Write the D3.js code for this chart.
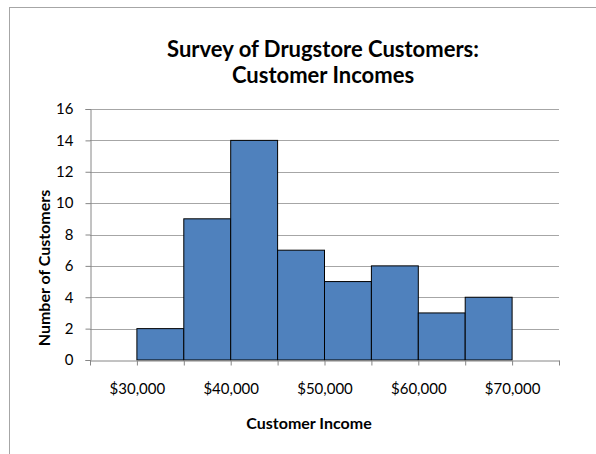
<!DOCTYPE html>
<html>
<head>
<meta charset="utf-8">
<script src="https://cdn.jsdelivr.net/npm/d3@7"></script>
<style>
  html, body { margin: 0; padding: 0; background: #fff; }
  svg { display: block; font-family: Lato, "Open Sans", sans-serif; }
</style>
</head>
<body>
<svg id="chart" width="596" height="454"></svg>
<script>
// Income bins (lower edge, upper edge) and customer counts
const binStarts = [30000, 35000, 40000, 45000, 50000, 55000, 60000, 65000];
const binEnds   = [35000, 40000, 45000, 50000, 55000, 60000, 65000, 70000];
const counts    = [2, 9, 14, 7, 5, 6, 3, 4];
const xLabelTicks = [30000, 40000, 50000, 60000, 70000];
const yTicks = [0, 2, 4, 6, 8, 10, 12, 14, 16];
const titleLines = ["Survey of Drugstore Customers:", "Customer Incomes"];

const svg = d3.select("#chart");
const plot = { left: 90, right: 559, top: 109, bottom: 360 };

// outer chart frame
svg.append("rect")
  .attr("x", 9.5).attr("y", 7.5)
  .attr("width", 620).attr("height", 470)
  .attr("fill", "none").attr("stroke", "#a6a6a6").attr("stroke-width", 1);

const x = d3.scaleLinear().domain([25000, 75000]).range([plot.left, plot.right]);
const y = d3.scaleLinear().domain([0, 16]).range([plot.bottom, plot.top]);

// horizontal gridlines
svg.append("g")
  .selectAll("line")
  .data(yTicks.filter(d => d > 0))
  .join("line")
  .attr("x1", plot.left).attr("x2", plot.right)
  .attr("y1", d => Math.round(y(d)) + 0.5).attr("y2", d => Math.round(y(d)) + 0.5)
  .attr("stroke", "#a6a6a6").attr("stroke-width", 1);

// bars
const bars = binStarts.map((s, i) => ({ s, e: binEnds[i], v: counts[i] }));
svg.append("g")
  .selectAll("rect")
  .data(bars)
  .join("rect")
  .attr("x", d => x(d.s))
  .attr("y", d => y(d.v))
  .attr("width", d => x(d.e) - x(d.s))
  .attr("height", d => y(0) - y(d.v))
  .attr("fill", "#4f81bd")
  .attr("stroke", "#000").attr("stroke-width", 1);

// y axis
const yAxis = svg.append("g")
  .attr("transform", `translate(${plot.left + 0.5},0)`)
  .call(d3.axisLeft(y).tickValues(yTicks).tickSize(5).tickPadding(12).tickFormat(d3.format("d")));
yAxis.select(".domain").attr("stroke", "#868686");
yAxis.selectAll(".tick line").attr("stroke", "#868686");
yAxis.selectAll(".tick text").attr("font-size", 15).attr("fill", "#000")
  .attr("font-family", "Lato, 'Open Sans', sans-serif");

// x axis: minor ticks every 5,000, labels every 10,000
const xTickVals = d3.range(25000, 75001, 5000);
const xAxis = svg.append("g")
  .attr("transform", `translate(0,${plot.bottom + 0.5})`)
  .call(d3.axisBottom(x).tickValues(xTickVals).tickSize(5).tickSizeOuter(0).tickPadding(18)
    .tickFormat(d => xLabelTicks.includes(d) ? "$" + d3.format(",")(d) : ""));
xAxis.select(".domain").attr("stroke", "#868686");
xAxis.selectAll(".tick line").attr("stroke", "#868686");
xAxis.selectAll(".tick text").attr("font-size", 15).attr("fill", "#000")
  .attr("font-family", "Lato, 'Open Sans', sans-serif");

// title
svg.append("text")
  .attr("x", 323).attr("y", 57)
  .attr("text-anchor", "middle")
  .attr("font-size", 22).attr("font-weight", "bold").attr("fill", "#000")
  .selectAll("tspan")
  .data(titleLines)
  .join("tspan")
  .attr("x", 323)
  .attr("dy", (d, i) => i === 0 ? 0 : 26)
  .text(d => d);

// axis titles
svg.append("text")
  .attr("x", 309).attr("y", 429)
  .attr("text-anchor", "middle")
  .attr("font-size", 16).attr("font-weight", "bold")
  .text("Customer Income");

svg.append("text")
  .attr("transform", "translate(50,268) rotate(-90)")
  .attr("text-anchor", "middle")
  .attr("font-size", 16).attr("font-weight", "bold")
  .text("Number of Customers");
</script>
</body>
</html>
